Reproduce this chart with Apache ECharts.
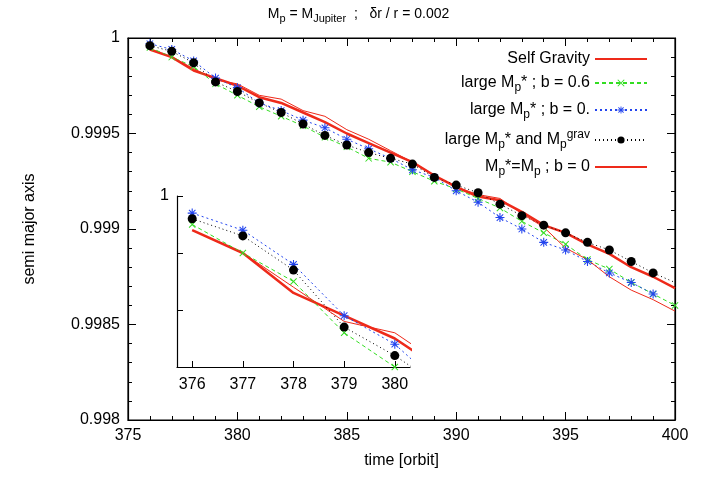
<!DOCTYPE html>
<html>
<head>
<meta charset="utf-8">
<script src="https://cdn.jsdelivr.net/npm/echarts@6/dist/echarts.min.js"></script>
<style>
    body { margin: 0; background: #fff; }
    #chart { width: 717px; height: 479px; }
</style>
</head>
<body>
<div id="chart"></div>
<script>
    // time [orbit]
    var times = [376, 377, 378, 379, 380, 381, 382, 383, 384, 385, 386, 387, 388,
        389, 390, 391, 392, 393, 394, 395, 396, 397, 398, 399, 400];
    var selfGravity = [0.99994, 0.9999, 0.99983, 0.99979, 0.99975, 0.99969, 0.99966, 0.99961, 0.99956, 0.9995, 0.99945, 0.9994, 0.99935,
        0.99928, 0.99922, 0.99917, 0.99915, 0.99909, 0.99902, 0.99898, 0.99892, 0.99887, 0.9988, 0.99875, 0.99869];
    var largeB06 = [0.99995, 0.9999, 0.99985, 0.99976, 0.9997, 0.99964, 0.99959, 0.99954, 0.99948, 0.99943, 0.99937, 0.99935, 0.9993,
        0.99925, 0.99921, 0.99916, 0.99911, 0.99904, 0.99898, 0.99892, 0.99884, 0.99879, 0.99872, 0.99866, 0.9986];
    var largeB0 = [0.99997, 0.99994, 0.99988, 0.99979, 0.99974, 0.99966, 0.99962, 0.99957, 0.99953, 0.99947, 0.99942, 0.99937, 0.99931,
        0.99927, 0.9992, 0.99914, 0.99906, 0.999, 0.99893, 0.99889, 0.99883, 0.99877, 0.99872, 0.99866];
    var largeGrav = [0.99996, 0.99993, 0.99987, 0.99977, 0.99972, 0.99966, 0.99961, 0.99955, 0.99949, 0.99944, 0.9994, 0.99937, 0.99934,
        0.99927, 0.99923, 0.99919, 0.99913, 0.99907, 0.99902, 0.99898, 0.99893, 0.99889, 0.99883, 0.99877];
    var largeGravEnd = [400, 0.99872];
    var sameMass = [0.99994, 0.9999, 0.99984, 0.99978, 0.99976, 0.9997, 0.99968, 0.99962, 0.99959, 0.99952, 0.99947, 0.99941, 0.99935,
        0.99928, 0.99922, 0.99918, 0.99916, 0.99908, 0.99901, 0.9989, 0.99884, 0.99875, 0.99868, 0.99863, 0.99857];
    var insetTicks = [376, 377, 378, 379, 380];

    var crossPath = 'path://M0,1L1,0L10,9L9,10ZM9,0L10,1L1,10L0,9Z';
    var starPath = 'path://M4.4,0H5.6V10H4.4ZM0,4.4H10V5.6H0ZM1,1.8L1.8,1L9,8.2L8.2,9ZM8.2,1L9,1.8L1.8,9L1,8.2Z';

    function pairs(ys) {
        return ys.map(function (y, i) { return [times[i], y]; });
    }

    var font = 'Liberation Sans, Arial, sans-serif';
    var legendText = {
        'Self Gravity': 'Self Gravity',
        'b06': 'large M{sub|p}* ; b = 0.6',
        'b0': 'large M{sub|p}* ; b = 0.',
        'grav': 'large M{sub|p}* and M{sub|p}{sup|grav}',
        'same': 'M{sub|p}*=M{sub|p} ; b = 0'
    };

    function makeSeries(gi) {
        return [
            { name: 'Self Gravity', type: 'line', data: pairs(selfGravity), symbol: 'none',
              lineStyle: { color: '#ee2a1a', width: 2.5 }, itemStyle: { color: '#ee2a1a' } },
            { name: 'b06', type: 'line', data: pairs(largeB06), symbol: crossPath, symbolSize: 7,
              lineStyle: { color: '#33dd22', width: 1, type: [4, 3] }, itemStyle: { color: '#33dd22' } },
            { name: 'b0', type: 'line', data: pairs(largeB0), symbol: starPath, symbolSize: 9,
              lineStyle: { color: '#2244ee', width: 1, type: [2, 3] }, itemStyle: { color: '#2244ee' } },
            { name: 'grav', type: 'line', data: pairs(largeGrav), symbol: 'circle', symbolSize: 9,
              lineStyle: { color: '#000', width: 1, type: [1, 3] }, itemStyle: { color: '#000' } },
            { name: 'same', type: 'line', data: pairs(sameMass), symbol: 'none',
              lineStyle: { color: '#ee2a1a', width: 1 }, itemStyle: { color: '#ee2a1a' } }
        ].map(function (s) {
            s.xAxisIndex = gi === 0 ? 0 : 2;
            s.yAxisIndex = gi === 0 ? 0 : 2;
            s.clip = true;
            s.z = 3;
            return s;
        });
    }

    var main = makeSeries(0);
    main[3].data.push({ value: largeGravEnd, symbol: 'none' });
    var inset = makeSeries(1);
    inset.forEach(function (s) { s.name = s.name + ' '; });

    var axisLine = { show: true, onZero: false, lineStyle: { color: '#000', width: 1.2 } };
    var labelStyle = { color: '#000', fontSize: 16, fontFamily: font };
    var tick = { inside: true, length: 8, lineStyle: { color: '#000' } };
    var minor = { show: true, splitNumber: 5, length: 4, lineStyle: { color: '#000' } };
    var subStyle = { fontSize: 12, verticalAlign: 'bottom', padding: [10, 0, 0, 0], fontFamily: font, color: '#000' };
    var supStyle = { fontSize: 12, verticalAlign: 'top', padding: [0, 0, 10, 0], fontFamily: font, color: '#000' };

    var chart = echarts.init(document.getElementById('chart'));
    chart.setOption({
        backgroundColor: '#fff',
        animation: false,
        title: {
            text: 'M{sub|p} = M{sub|Jupiter}  ;   δr / r = 0.002',
            left: 'center', top: 0,
            textStyle: { fontSize: 14, fontWeight: 'normal', color: '#000', fontFamily: font,
                rich: { sub: { fontSize: 11, verticalAlign: 'bottom', padding: [8, 0, 0, 0], fontFamily: font, color: '#000' } } }
        },
        legend: {
            data: [
                { name: 'Self Gravity', itemStyle: { opacity: 0 } },
                { name: 'b06' }, { name: 'b0' }, { name: 'grav' },
                { name: 'same', itemStyle: { opacity: 0 } }
            ],
            orient: 'vertical', right: 64, top: 46, align: 'right', itemGap: 8,
            itemWidth: 52, itemHeight: 9,
            formatter: function (n) { return legendText[n]; },
            textStyle: { fontSize: 16, color: '#000', fontFamily: font, rich: { sub: subStyle, sup: supStyle } }
        },
        grid: [
            { left: 128, right: 42, top: 38, bottom: 59, show: true, borderColor: '#000', borderWidth: 1.2 },
            { left: 177, top: 196, width: 233, height: 171 }
        ],
        xAxis: [
            { type: 'value', gridIndex: 0, min: 375, max: 400, interval: 5, name: 'time [orbit]',
              nameLocation: 'middle', nameGap: 33, nameTextStyle: labelStyle,
              axisLine: axisLine, splitLine: { show: false }, axisTick: tick, minorTick: minor,
              axisLabel: labelStyle },
            { type: 'value', gridIndex: 0, position: 'top', min: 375, max: 400, interval: 5,
              axisLine: axisLine, splitLine: { show: false }, axisLabel: { show: false },
              axisTick: tick, minorTick: minor },
            { type: 'value', gridIndex: 1, min: 375.7, max: 380.3,
              axisLine: axisLine, splitLine: { show: false },
              axisTick: { inside: true, length: 6, customValues: insetTicks, lineStyle: { color: '#000' } },
              axisLabel: { customValues: insetTicks, color: '#000', fontSize: 16, fontFamily: font, margin: 10 } }
        ],
        yAxis: [
            { type: 'value', gridIndex: 0, min: 0.998, max: 1, interval: 0.0005, name: 'semi major axis',
              nameLocation: 'middle', nameGap: 90, nameTextStyle: labelStyle,
              axisLine: axisLine, splitLine: { show: false }, axisTick: tick, minorTick: minor,
              axisLabel: { color: '#000', fontSize: 16, fontFamily: font,
                  formatter: function (v) { return v >= 0.99999 ? '1' : String(+v.toFixed(4)); } } },
            { type: 'value', gridIndex: 0, position: 'right', min: 0.998, max: 1, interval: 0.0005,
              axisLine: axisLine, splitLine: { show: false }, axisLabel: { show: false },
              axisTick: tick, minorTick: minor },
            { type: 'value', gridIndex: 1, min: 0.9997, max: 1, interval: 0.0001,
              axisLine: axisLine, splitLine: { show: false },
              axisTick: { inside: true, length: 6, lineStyle: { color: '#000' } },
              axisLabel: { color: '#000', fontSize: 16, fontFamily: font,
                  formatter: function (v) { return v >= 0.99999 ? '1' : ''; } } }
        ],
        series: main.concat(inset)
    });
</script>
</body>
</html>
